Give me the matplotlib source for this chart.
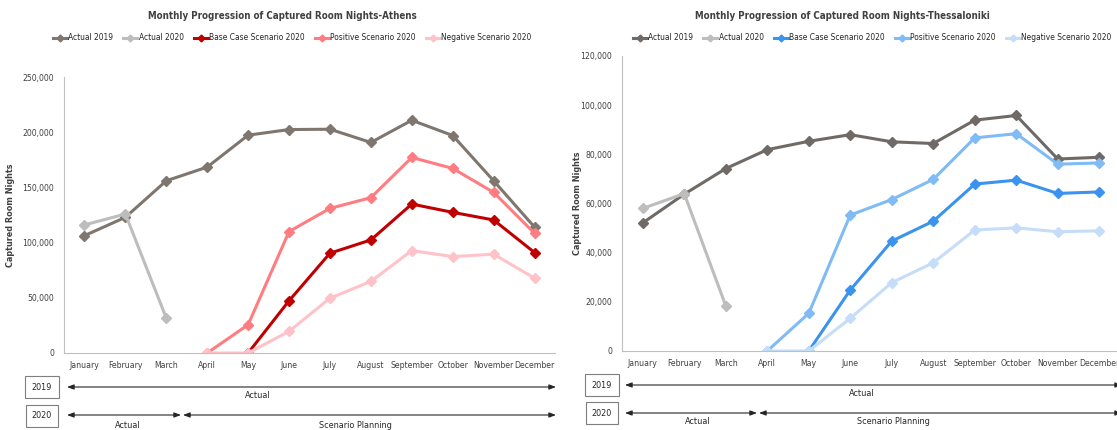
import matplotlib.pyplot as plt
import numpy as np

plt.rcParams['font.family'] = ['DejaVu Sans']
plt.rcParams['font.stretch'] = 'condensed'

months = ['January', 'February', 'March', 'April', 'May', 'June', 'July',
          'August', 'September', 'October', 'November', 'December']
nan = np.nan

# Athens
ath_2019 = [106300, 122900, 156000, 168400, 197300, 202400, 202700, 190700, 210800, 197000, 156000, 114000]
ath_2020 = [116000, 125900, 31600, nan, nan, nan, nan, nan, nan, nan, nan, nan]
ath_base = [nan, nan, nan, nan, 0, 47300, 90400, 102400, 134900, 127400, 120500, 91000]
ath_pos = [nan, nan, nan, 0, 25600, 110000, 131000, 140700, 177100, 167200, 145500, 108400]
ath_neg = [nan, nan, nan, 0, 0, 19600, 49700, 64800, 92800, 87300, 89500, 67800]

# Thessaloniki
the_2019 = [52100, 63800, 74200, 81900, 85300, 88000, 85100, 84400, 93900, 95800, 78100, 78800]
the_2020 = [58000, 64000, 18400, nan, nan, nan, nan, nan, nan, nan, nan, nan]
the_base = [nan, nan, nan, nan, 0, 24800, 44700, 52800, 67900, 69500, 64100, 64700]
the_pos = [nan, nan, nan, 0, 15300, 55300, 61600, 69800, 86700, 88400, 76000, 76500]
the_neg = [nan, nan, nan, 0, 0, 13300, 27800, 35900, 49200, 50100, 48500, 48900]

labels = ['Actual 2019', 'Actual 2020', 'Base Case Scenario 2020',
          'Positive Scenario 2020', 'Negative Scenario 2020']
red_cols = ['#7f776f', '#bdbdbd', '#c00000', '#ff7c80', '#ffc2c8']
blue_cols = ['#6f6a66', '#bdbdbd', '#3a93ee', '#80bbf5', '#c5ddf8']

W, H = 1117, 430
fig = plt.figure(figsize=(W / 100, H / 100), dpi=100)


def px(x0, y0, x1, y1):
    return [x0 / W, 1 - y1 / H, (x1 - x0) / W, (y1 - y0) / H]


def draw(ax, series, cols, ymax, step, title, tx):
    x = np.arange(12)
    handles = []
    for s, c in zip(series, cols):
        h, = ax.plot(x, s, color=c, lw=2.2, marker='D', ms=5, mec=c, mfc=c)
        handles.append(h)
    ax.set_xlim(-0.5, 11.5)
    ax.set_ylim(0, ymax)
    ax.set_yticks(np.arange(0, ymax + 1, step))
    ax.set_yticklabels([f'{v:,}' for v in range(0, ymax + 1, step)])
    ax.set_xticks(x)
    ax.set_xticklabels(months)
    ax.tick_params(axis='both', length=0, labelsize=6.2, colors='#404040')
    ax.tick_params(axis='y', pad=7)
    ax.tick_params(axis='x', pad=6)
    for sp in ['top', 'right']:
        ax.spines[sp].set_visible(False)
    for sp in ['left', 'bottom']:
        ax.spines[sp].set_color('#bfbfbf')
    ax.set_ylabel('Captured Room Nights', fontsize=6.5, color='#404040', fontweight='bold')
    fig.text(tx / W, 1 - 16 / H, title, ha='center', va='center', fontsize=7,
             fontweight='bold', color='#404040')
    return handles


axL = fig.add_axes(px(64, 77, 555, 353))
hL = draw(axL, [ath_2019, ath_2020, ath_base, ath_pos, ath_neg], red_cols,
          250000, 50000, 'Monthly Progression of Captured Room Nights-Athens', 282)
axL.yaxis.set_label_coords(-0.1, 0.5)
fig.legend(hL, labels, loc='center', bbox_to_anchor=(292 / W, 1 - 38 / H), ncol=5,
           frameon=False, fontsize=6, handlelength=1.7, columnspacing=1.2,
           handletextpad=0.15, markerscale=0.7, labelcolor='#262626')

axR = fig.add_axes(px(622, 56, 1120, 351))
hR = draw(axR, [the_2019, the_2020, the_base, the_pos, the_neg], blue_cols,
          120000, 20000, 'Monthly Progression of Captured Room Nights-Thessaloniki', 842)
axR.yaxis.set_label_coords(-0.08, 0.5)
fig.legend(hR, labels, loc='center', bbox_to_anchor=(872 / W, 1 - 38 / H), ncol=5,
           frameon=False, fontsize=6, handlelength=1.7, columnspacing=1.2,
           handletextpad=0.15, markerscale=0.7, labelcolor='#262626')


def box(x, y, txt):
    fig.text(x / W, 1 - y / H, txt, ha='center', va='center', fontsize=6.5, color='#262626',
             bbox=dict(boxstyle='square,pad=0.7', fc='white', ec='#7f7f7f', lw=0.8))


def arrow(x0, x1, y, style='<|-|>'):
    fig.add_artist(plt.Annotation('', xy=(x1 / W, 1 - y / H), xytext=(x0 / W, 1 - y / H),
                                  xycoords='figure fraction', textcoords='figure fraction',
                                  arrowprops=dict(arrowstyle=style + ',head_length=0.4,head_width=0.15',
                                                  color='#262626', lw=0.8, shrinkA=0, shrinkB=0)))


def label(x, y, txt):
    fig.text(x / W, 1 - y / H, txt, ha='center', va='center', fontsize=6.5, color='#262626')


# timeline Athens
box(42, 387, '2019')
box(42, 416, '2020')
arrow(67, 556, 387)
label(258, 396, 'Actual')
arrow(67, 181, 415)
arrow(183, 556, 415)
label(128, 425, 'Actual')
label(355, 425, 'Scenario Planning')

# timeline Thessaloniki
box(602, 385, '2019')
box(602, 413, '2020')
arrow(625, 1122, 385)
label(862, 393, 'Actual')
arrow(625, 757, 413)
arrow(759, 1122, 413)
label(698, 421, 'Actual')
label(893, 421, 'Scenario Planning')

fig.savefig('out.png', dpi=100)
